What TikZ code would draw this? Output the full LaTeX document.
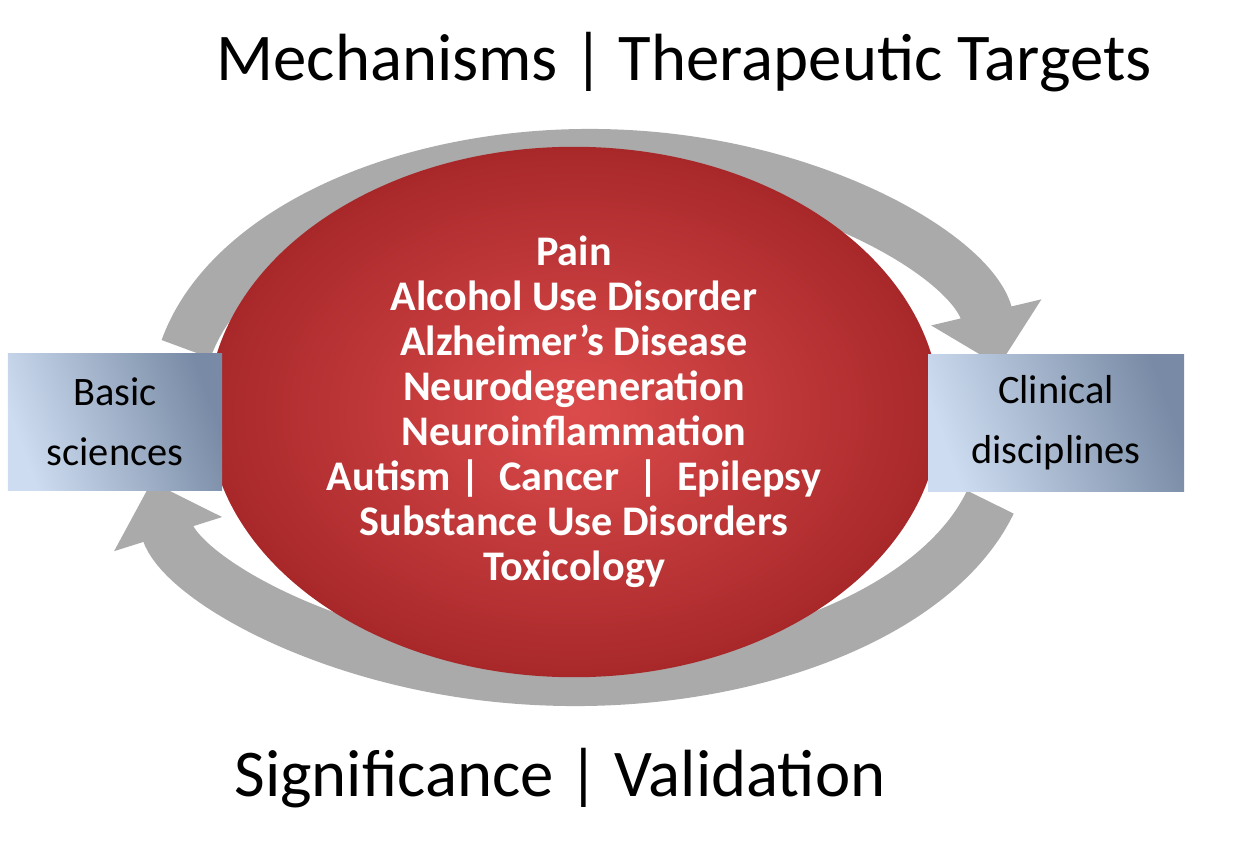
\documentclass[tikz,border=0pt]{standalone}
\usepackage{fontspec}
\setmainfont{Carlito}
\usetikzlibrary{arrows.meta,positioning,shapes.geometric}

\definecolor{boxlight}{RGB}{205,220,240}
\definecolor{boxdark}{RGB}{120,138,165}
\definecolor{redlight}{RGB}{220,75,75}
\definecolor{reddark}{RGB}{168,40,42}
\definecolor{arcgray}{RGB}{170,170,170}

\tikzset{
  fieldbox/.style={rectangle,minimum height=1.37cm,align=center,
    font=\fontsize{11.5}{17}\selectfont,left color=boxlight,right color=boxdark,
    shading angle=110},
  looparc/.style={arcgray,line width=0.52cm,
    -{Triangle[width=1.1cm,length=0.55cm]}},
  headline/.style={font=\fontsize{19}{24}\selectfont}
}

\begin{document}
\begin{tikzpicture}
\useasboundingbox (0,0) rectangle (12.59,8.57);

% cycle arrows
\draw[looparc] (5.90,4.57) ++(168:4.13 and 2.45) arc (168:8:4.13 and 2.45);
\draw[looparc] (5.75,4.17) ++(-15:4.30 and 2.40) arc (-15:-170:4.30 and 2.40);

% central disease field
\node[ellipse,minimum width=6.8cm,minimum height=4.9cm,
  inner color=redlight,outer color=reddark,text=white,align=center,
  font=\bfseries\fontsize{12}{12.8}\selectfont] (core) at (5.74,4.45)
  {Pain\\Alcohol Use Disorder\\Alzheimer’s Disease\\Neurodegeneration\\
   Neuroinflammation\\Autism |\ \ Cancer\ \ |\ \ Epilepsy\\
   Substance Use Disorders\\Toxicology};

% disciplines
\node[fieldbox,minimum width=2.14cm] (basic) at (1.15,4.35) {Basic\\sciences};
\node[fieldbox,minimum width=2.56cm] (clinic) at (10.56,4.34) {Clinical\\disciplines};

% headings
\node[headline] (mech) at (6.84,7.95) {Mechanisms | Therapeutic Targets};
\node[headline] (sig) at (5.60,0.79) {Significance | Validation};
\end{tikzpicture}
\end{document}
